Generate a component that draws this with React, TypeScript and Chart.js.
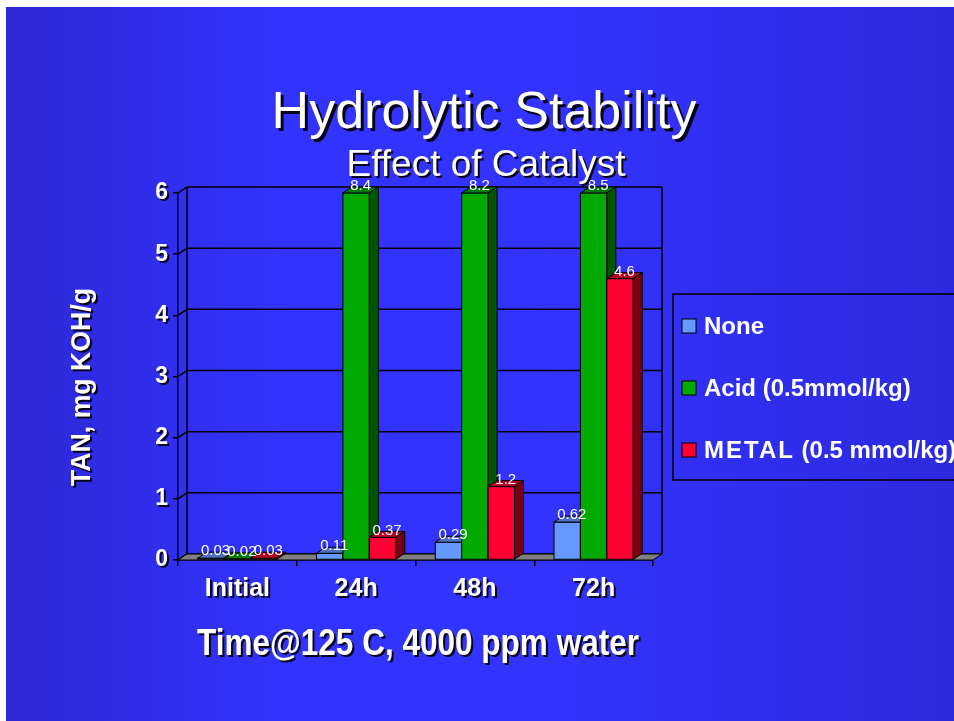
import { useEffect, useRef } from "react";
import { Chart, registerables } from "chart.js";

Chart.register(...registerables);

const categories = ["Initial", "24h", "48h", "72h"];
const seriesNames = ["None", "Acid (0.5mmol/kg)", "METAL (0.5 mmol/kg)"];
const noneValues = [0.03, 0.11, 0.29, 0.62];
const acidValues = [0.02, 8.4, 8.2, 8.5];
const metalValues = [0.03, 0.37, 1.2, 4.6];
const yMin = 0;
const yMax = 6;
const yStep = 1;

const titleText = "Hydrolytic Stability";
const subtitleText = "Effect of Catalyst";
const yTitleText = "TAN, mg KOH/g";
const xTitleText = "Time@125 C, 4000 ppm water";

const FONT = '"Liberation Sans", Arial, Helvetica, sans-serif';
const DX = 9;
const DY = 6;

const faceColors = [
  { front: "#6699ff", top: "#4d70c4", side: "#33508f" },
  { front: "#00aa00", top: "#007a00", side: "#005500" },
  { front: "#ff0033", top: "#b80024", side: "#770015" },
];

function poly(ctx: CanvasRenderingContext2D, pts: number[][], fill: string) {
  ctx.beginPath();
  ctx.moveTo(pts[0][0], pts[0][1]);
  for (let k = 1; k < pts.length; k++) ctx.lineTo(pts[k][0], pts[k][1]);
  ctx.closePath();
  ctx.fillStyle = fill;
  ctx.fill();
  ctx.stroke();
}

function shadowText(
  ctx: CanvasRenderingContext2D,
  text: string,
  x: number,
  y: number,
  font: string,
  off: number,
  targetWidth?: number,
  rotate?: boolean
) {
  ctx.save();
  ctx.font = font;
  ctx.textAlign = "center";
  ctx.textBaseline = "alphabetic";
  ctx.translate(x, y);
  if (rotate) ctx.rotate(-Math.PI / 2);
  if (targetWidth) {
    const w = ctx.measureText(text).width;
    ctx.scale(targetWidth / w, 1);
  }
  ctx.shadowColor = "rgba(0,0,0,0.9)";
  ctx.shadowOffsetX = off;
  ctx.shadowOffsetY = off;
  ctx.shadowBlur = 0;
  ctx.fillStyle = "#ffffff";
  ctx.fillText(text, 0, 0);
  ctx.restore();
}

const decoPlugin = {
  id: "deco",
  beforeDraw(chart: any) {
    const ctx: CanvasRenderingContext2D = chart.ctx;
    const W = chart.width;
    const H = chart.height;
    ctx.save();
    ctx.fillStyle = "#ffffff";
    ctx.fillRect(0, 0, W, H);
    const g = ctx.createLinearGradient(6, 0, W, 0);
    g.addColorStop(0, "rgb(45,40,214)");
    g.addColorStop(0.3, "rgb(51,51,255)");
    g.addColorStop(0.55, "rgb(51,51,255)");
    g.addColorStop(1, "rgb(45,42,222)");
    ctx.fillStyle = g;
    ctx.fillRect(6, 7, W - 6, H - 7);
    ctx.restore();
    for (const id of ["x", "y"]) {
      const s: any = chart.scales[id];
      if (s && !s.__sh) {
        const orig = s.drawLabels;
        s.drawLabels = function (ca: any) {
          const c: CanvasRenderingContext2D = this.ctx;
          c.save();
          c.shadowColor = "rgba(0,0,0,0.85)";
          c.shadowOffsetX = 2;
          c.shadowOffsetY = 2;
          c.shadowBlur = 0;
          orig.call(this, ca);
          c.restore();
        };
        s.__sh = true;
      }
    }
  },
  beforeDatasetsDraw(chart: any) {
    const ctx: CanvasRenderingContext2D = chart.ctx;
    const a = chart.chartArea;
    const y = chart.scales.y;
    ctx.save();
    ctx.strokeStyle = "#000";
    ctx.lineWidth = 1.5;
    ctx.beginPath();
    ctx.moveTo(a.left + DX, a.top - DY);
    ctx.lineTo(a.left + DX, a.bottom - DY);
    ctx.moveTo(a.right + DX, a.top - DY);
    ctx.lineTo(a.right + DX, a.bottom - DY);
    for (const t of y.ticks) {
      const py = y.getPixelForValue(t.value);
      ctx.moveTo(a.left, py);
      ctx.lineTo(a.left + DX, py - DY);
      ctx.lineTo(a.right + DX, py - DY);
    }
    ctx.stroke();
    ctx.lineWidth = 1;
    poly(
      ctx,
      [
        [a.left, a.bottom],
        [a.right, a.bottom],
        [a.right + DX, a.bottom - DY],
        [a.left + DX, a.bottom - DY],
      ],
      "#808080"
    );
    ctx.restore();
  },
  afterDatasetsDraw(chart: any) {
    const ctx: CanvasRenderingContext2D = chart.ctx;
    const a = chart.chartArea;
    const n = chart.data.datasets.length;
    const metas = [];
    for (let i = 0; i < n; i++) metas.push(chart.getDatasetMeta(i));
    ctx.save();
    ctx.strokeStyle = "#000";
    ctx.lineWidth = 1;
    ctx.lineJoin = "miter";
    const labels: any[] = [];
    for (let j = 0; j < chart.data.labels.length; j++) {
      for (let i = 0; i < n; i++) {
        const el = metas[i].data[j];
        const p = el.getProps(["x", "y", "base", "width"], true);
        const top = Math.max(p.y, a.top);
        const base = p.base;
        const x0 = p.x - p.width / 2;
        const x1 = p.x + p.width / 2;
        const c = faceColors[i];
        ctx.fillStyle = c.front;
        ctx.fillRect(x0, top, p.width, base - top);
        ctx.strokeRect(x0, top, p.width, base - top);
        poly(ctx, [[x0, top], [x1, top], [x1 + DX, top - DY], [x0 + DX, top - DY]], c.top);
        poly(ctx, [[x1, top], [x1 + DX, top - DY], [x1 + DX, base - DY], [x1, base]], c.side);
        labels.push({ text: String(chart.data.datasets[i].data[j]), x: p.x + DX / 2, y: top - DY - 1 });
      }
    }
    ctx.font = "15px " + FONT;
    ctx.fillStyle = "#ffffff";
    ctx.textAlign = "center";
    ctx.textBaseline = "middle";
    for (const l of labels) ctx.fillText(l.text, l.x, l.y);
    ctx.restore();
  },
  afterDraw(chart: any) {
    const ctx: CanvasRenderingContext2D = chart.ctx;
    shadowText(ctx, titleText, 484, 128, "52px " + FONT, 3);
    shadowText(ctx, subtitleText, 486, 176, "37px " + FONT, 2);
    shadowText(ctx, yTitleText, 90, 387, "bold 28px " + FONT, 2, 198, true);
    shadowText(ctx, xTitleText, 418, 655, "bold 36px " + FONT, 2, 442);

    // legend
    ctx.save();
    ctx.strokeStyle = "#000";
    ctx.lineWidth = 1.5;
    ctx.strokeRect(673, 294, 320, 186);
    const ys = [326, 388, 450];
    chart.data.datasets.forEach((ds: any, i: number) => {
      ctx.fillStyle = faceColors[i].front;
      ctx.lineWidth = 1;
      ctx.fillRect(682, ys[i] - 7, 14, 14);
      ctx.strokeRect(682, ys[i] - 7, 14, 14);
      ctx.font = "bold 24px " + FONT;
      ctx.fillStyle = "#ffffff";
      ctx.textAlign = "left";
      ctx.textBaseline = "middle";
      const label: string = ds.label;
      const m = label.match(/^([A-Z]{4,})(.*)$/);
      if (m) {
        (ctx as any).letterSpacing = "2px";
        ctx.fillText(m[1], 704, ys[i] + 1);
        const w = ctx.measureText(m[1]).width;
        (ctx as any).letterSpacing = "0px";
        ctx.fillText(m[2], 704 + w, ys[i] + 1);
      } else {
        ctx.fillText(label, 704, ys[i] + 1);
      }
    });
    ctx.restore();
  },
};

export default function App() {
  const ref = useRef<HTMLCanvasElement>(null);
  useEffect(() => {
    document.body.style.margin = "0";
    Chart.defaults.font.family = FONT;
    const mk = (label: string, data: number[], i: number) => ({
      label,
      data,
      backgroundColor: faceColors[i].front,
      borderColor: "#000",
      borderWidth: 1,
      clip: 0,
      categoryPercentage: 0.667,
      barPercentage: 1,
    });
    const chart = new Chart(ref.current as HTMLCanvasElement, {
      type: "bar",
      data: {
        labels: categories,
        datasets: [
          mk(seriesNames[0], noneValues, 0),
          mk(seriesNames[1], acidValues, 1),
          mk(seriesNames[2], metalValues, 2),
        ],
      },
      options: {
        responsive: false,
        animation: false,
        devicePixelRatio: 1,
        layout: { padding: { left: 0, top: 193, right: 301, bottom: 111 } },
        plugins: {
          legend: { display: false },
          title: { display: false },
          tooltip: { enabled: false },
        },
        scales: {
          x: {
            grid: {
              display: true,
              drawOnChartArea: false,
              drawTicks: true,
              tickLength: 6,
              color: "#000",
              lineWidth: 1.5,
              offset: true,
            },
            border: { display: true, color: "#000", width: 1.5 },
            ticks: {
              color: "#ffffff",
              font: { size: 25, weight: "bold", family: FONT },
              padding: 8,
            },
            afterFit: (s: any) => {
              s.height = 50;
            },
          },
          y: {
            min: yMin,
            max: yMax,
            grid: {
              display: true,
              drawOnChartArea: false,
              drawTicks: true,
              tickLength: 5,
              color: "#000",
              lineWidth: 1.5,
            },
            border: { display: true, color: "#000", width: 1.5 },
            ticks: {
              stepSize: yStep,
              color: "#ffffff",
              font: { size: 23, weight: "bold", family: FONT },
              padding: 5,
            },
            afterFit: (s: any) => {
              s.width = 178;
            },
          },
        },
      } as any,
      plugins: [decoPlugin as any],
    });
    return () => chart.destroy();
  }, []);
  return (
    <div style={{ width: 954, height: 721 }}>
      <canvas ref={ref} width={954} height={721} style={{ display: "block" }} />
    </div>
  );
}
